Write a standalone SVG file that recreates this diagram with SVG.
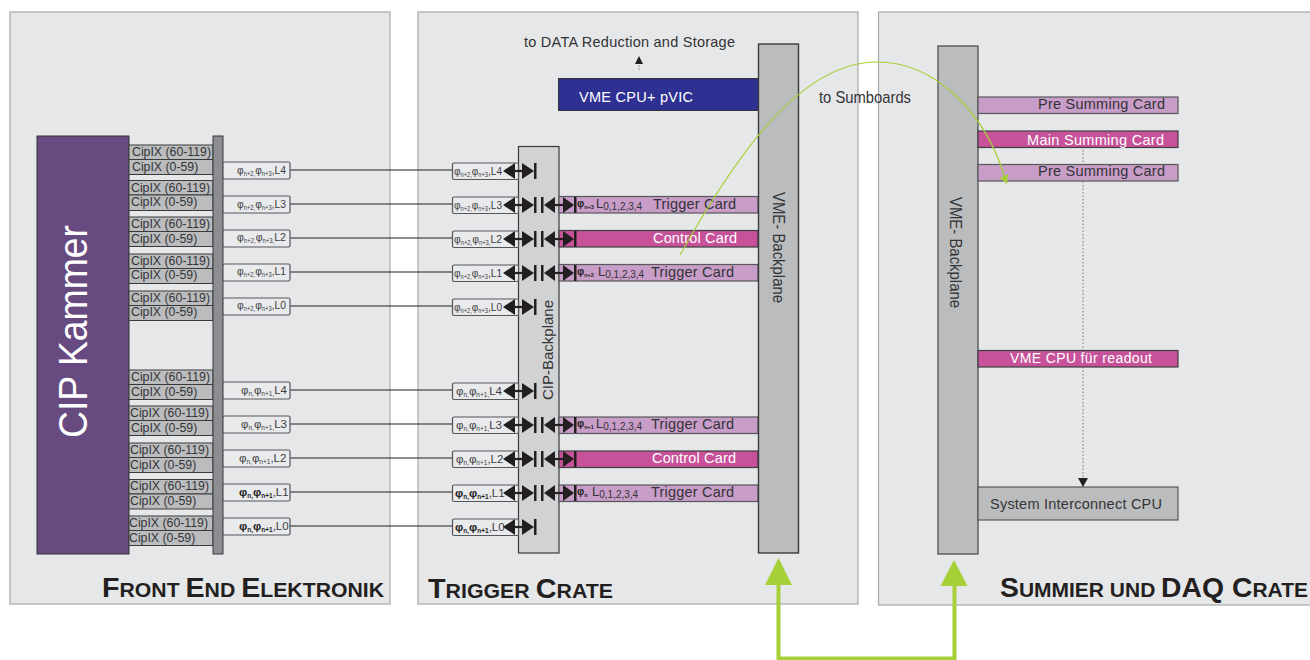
<svg xmlns="http://www.w3.org/2000/svg" width="1310" height="660" viewBox="0 0 1310 660">
<style>
text{font-family:"Liberation Sans",Arial,sans-serif;fill:#333436}
.panel{fill:#e6e7e9;stroke:#a6a8ab;stroke-width:1.2}
.bp{fill:#bbbcbe;stroke:#3a3a3c;stroke-width:1.4}
.cip{fill:#bbbcbe;stroke:#3a3a3c;stroke-width:1}
.cl{font-size:12.3px}
.tag{fill:#e9eaec;stroke:#55565a;stroke-width:1.2}
.tg{font-size:11.500px;fill:#3c3d3f}
.sub{font-size:6.500px}
.b{font-weight:bold;fill:#222}
.trig{fill:#c89dc8;stroke:#58585a;stroke-width:1.2}
.ctrl{fill:#c7529a;stroke:#3f3f41;stroke-width:1.2}
.cd{font-size:14.500px}
.ls{font-size:10px}
.ls .sub{font-size:5.500px}
.title{font-weight:bold;fill:#231f20;font-size:20px}
.cap{font-size:27px}
.wire{stroke:#1f1f21;stroke-width:1.2;fill:none}
.green{fill:#a6d037}
</style>
<defs>
<g id="da"><path d="M0 0L12-8V8ZM19-8L31 0L19 8Z" fill="#231f20"/><path d="M10 0H21" stroke="#231f20" stroke-width="2.200"/><rect x="31" y="-8" width="2.500" height="16" fill="#231f20"/></g>
<g id="da2"><rect x="0" y="-8" width="2.500" height="16" fill="#231f20"/><path d="M3 0L14-8V8ZM22-8L33 0L22 8Z" fill="#231f20"/><rect x="33" y="-8" width="2.500" height="16" fill="#231f20"/><path d="M12 0H24" stroke="#231f20" stroke-width="2.200"/></g>
</defs>

<rect class="panel" x="10" y="12" width="380" height="592"/>
<rect class="panel" x="418" y="12" width="440" height="592"/>
<rect class="panel" x="878.500" y="12" width="440" height="593"/>

<g id="connectors">
<path class="wire" d="M290 170H452M290 204H452M290 238H452M290 272H452M290 306H452M290 390H452M290 424H452M290 458H452M290 492H452M290 526H452"/>
<path d="M1083 150V479" stroke="#77787b" stroke-width="1" stroke-dasharray="1.500 2" fill="none"/>
<path d="M1078 478H1088L1083 487Z" fill="#231f20"/>
<path d="M639 70V60" stroke="#77787b" stroke-width="1" stroke-dasharray="1.500 1.500" fill="none"/>
<path d="M635 64L639 56L643 64Z" fill="#231f20"/>
<path d="M778.500 584V658.500H954.500V585" stroke="#a6d037" stroke-width="4" fill="none"/>
<path class="green" d="M778.500 558L792 585H765Z"/>
<path class="green" d="M954 560L967.500 586H940.500Z"/>
</g>

<g id="cip-kammer"><rect x="37" y="136" width="92" height="418" fill="#674a7f" stroke="#333" stroke-width="1"/>
<text transform="translate(87 438) rotate(-90)" font-size="41" style="fill:#fff" textLength="213" lengthAdjust="spacingAndGlyphs">CIP Kammer</text></g>

<g id="front-end-rows">
<rect class="cip" x="129" y="145" width="84" height="14.500"/><rect class="cip" x="129" y="159.500" width="84" height="15"/>
<text class="cl" x="132" y="156">CipIX (60-119)</text><text class="cl" x="132" y="171">CipIX (0-59)</text>
<rect class="cip" x="129" y="180.500" width="84" height="14.500"/><rect class="cip" x="129" y="195" width="84" height="15.500"/>
<text class="cl" x="131" y="192">CipIX (60-119)</text><text class="cl" x="131" y="206">CipIX (0-59)</text>
<rect class="cip" x="129" y="217" width="84" height="14.500"/><rect class="cip" x="129" y="231.500" width="84" height="15"/>
<text class="cl" x="131" y="228">CipIX (60-119)</text><text class="cl" x="131" y="243">CipIX (0-59)</text>
<rect class="cip" x="129" y="254" width="84" height="14.500"/><rect class="cip" x="129" y="268.500" width="84" height="15"/>
<text class="cl" x="131" y="265">CipIX (60-119)</text><text class="cl" x="131" y="279">CipIX (0-59)</text>
<rect class="cip" x="129" y="291" width="84" height="14.500"/><rect class="cip" x="129" y="305.500" width="84" height="15"/>
<text class="cl" x="131" y="302">CipIX (60-119)</text><text class="cl" x="131" y="316">CipIX (0-59)</text>
<rect class="cip" x="129" y="370" width="84" height="14.500"/><rect class="cip" x="129" y="384.500" width="84" height="15"/>
<text class="cl" x="131" y="381">CipIX (60-119)</text><text class="cl" x="131" y="396">CipIX (0-59)</text>
<rect class="cip" x="129" y="406" width="84" height="14.500"/><rect class="cip" x="129" y="420.500" width="84" height="15"/>
<text class="cl" x="130" y="417">CipIX (60-119)</text><text class="cl" x="131" y="432">CipIX (0-59)</text>
<rect class="cip" x="129" y="443" width="84" height="14.500"/><rect class="cip" x="129" y="457.500" width="84" height="15"/>
<text class="cl" x="130" y="454">CipIX (60-119)</text><text class="cl" x="130" y="469">CipIX (0-59)</text>
<rect class="cip" x="129" y="479.500" width="84" height="14.500"/><rect class="cip" x="129" y="494" width="84" height="15"/>
<text class="cl" x="130" y="490">CipIX (60-119)</text><text class="cl" x="130" y="505">CipIX (0-59)</text>
<rect class="cip" x="129" y="516" width="84" height="14.500"/><rect class="cip" x="129" y="530.500" width="84" height="15"/>
<text class="cl" x="129" y="527">CipIX (60-119)</text><text class="cl" x="129" y="542">CipIX (0-59)</text>
</g>
<g id="front-end-bar"><rect x="213" y="136" width="10" height="418" fill="#8c8e91" stroke="#3a3a3c" stroke-width="1"/></g>

<g id="front-end-tags">
<rect class="tag" x="223" y="162" width="67" height="17" rx="1.500"/><text class="tg" x="237" y="174" textLength="49" lengthAdjust="spacingAndGlyphs">φ<tspan class="sub" dy="2">n+2,</tspan><tspan dy="-2">φ</tspan><tspan class="sub" dy="2">n+3</tspan><tspan dy="-2">,L4</tspan></text>
<rect class="tag" x="223" y="196" width="67" height="17" rx="1.500"/><text class="tg" x="237" y="207.500" textLength="49" lengthAdjust="spacingAndGlyphs">φ<tspan class="sub" dy="2">n+2,</tspan><tspan dy="-2">φ</tspan><tspan class="sub" dy="2">n+3</tspan><tspan dy="-2">,L3</tspan></text>
<rect class="tag" x="223" y="230" width="67" height="17" rx="1.500"/><text class="tg" x="237" y="241" textLength="49" lengthAdjust="spacingAndGlyphs">φ<tspan class="sub" dy="2">n+2,</tspan><tspan dy="-2">φ</tspan><tspan class="sub" dy="2">n+3,</tspan><tspan dy="-2">L2</tspan></text>
<rect class="tag" x="223" y="264" width="67" height="17" rx="1.500"/><text class="tg" x="237" y="275" textLength="49" lengthAdjust="spacingAndGlyphs">φ<tspan class="sub" dy="2">n+2,</tspan><tspan dy="-2">φ</tspan><tspan class="sub" dy="2">n+3</tspan><tspan dy="-2">,L1</tspan></text>
<rect class="tag" x="223" y="298" width="67" height="17" rx="1.500"/><text class="tg" x="237" y="309" textLength="49" lengthAdjust="spacingAndGlyphs">φ<tspan class="sub" dy="2">n+2,</tspan><tspan dy="-2">φ</tspan><tspan class="sub" dy="2">n+3</tspan><tspan dy="-2">,L0</tspan></text>
<rect class="tag" x="223" y="382" width="67" height="17" rx="1.500"/><text class="tg" x="241" y="393.500">φ<tspan class="sub" dy="2">n,</tspan><tspan dy="-2">φ</tspan><tspan class="sub" dy="2">n+1,</tspan><tspan dy="-2">L4</tspan></text>
<rect class="tag" x="223" y="416" width="67" height="17" rx="1.500"/><text class="tg" x="241" y="427.500">φ<tspan class="sub" dy="2">n,</tspan><tspan dy="-2">φ</tspan><tspan class="sub" dy="2">n+1,</tspan><tspan dy="-2">L3</tspan></text>
<rect class="tag" x="223" y="450" width="67" height="17" rx="1.500"/><text class="tg" x="239" y="461.500">φ<tspan class="sub" dy="2">n,</tspan><tspan dy="-2">φ</tspan><tspan class="sub" dy="2">n+1</tspan><tspan dy="-2">,L2</tspan></text>
<rect class="tag" x="223" y="484" width="67" height="17" rx="1.500"/><text class="tg" x="239" y="495.500"><tspan class="b">φ</tspan><tspan class="sub b" dy="2">n,</tspan><tspan class="b" dy="-2">φ</tspan><tspan class="sub b" dy="2">n+1</tspan><tspan dy="-2">,L1</tspan></text>
<rect class="tag" x="223" y="518" width="67" height="17" rx="1.500"/><text class="tg" x="239" y="529.500"><tspan class="b">φ</tspan><tspan class="sub b" dy="2">n,</tspan><tspan class="b" dy="-2">φ</tspan><tspan class="sub b" dy="2">n+1</tspan><tspan dy="-2">,L0</tspan></text>
</g>

<g id="cip-backplane"><rect x="518.500" y="146.500" width="40.500" height="406.500" fill="#d0d2d3" stroke="#3a3a3c" stroke-width="1.200"/>
<text transform="translate(553 400) rotate(-90)" font-size="14.500" textLength="100" lengthAdjust="spacingAndGlyphs">CIP-Backplane</text></g>

<g id="trigger-tags">
<rect class="tag" x="452.500" y="163" width="66" height="16.500" rx="1.500"/><text class="tg" x="454" y="175" textLength="48" lengthAdjust="spacingAndGlyphs">φ<tspan class="sub" dy="2">n+2,</tspan><tspan dy="-2">φ</tspan><tspan class="sub" dy="2">n+3</tspan><tspan dy="-2">,L4</tspan></text>
<rect class="tag" x="452.500" y="197" width="66" height="16.500" rx="1.500"/><text class="tg" x="454" y="209" textLength="48" lengthAdjust="spacingAndGlyphs">φ<tspan class="sub" dy="2">n+2,</tspan><tspan dy="-2">φ</tspan><tspan class="sub" dy="2">n+3</tspan><tspan dy="-2">,L3</tspan></text>
<rect class="tag" x="452.500" y="231" width="66" height="16.500" rx="1.500"/><text class="tg" x="454" y="243" textLength="48" lengthAdjust="spacingAndGlyphs">φ<tspan class="sub" dy="2">n+2,</tspan><tspan dy="-2">φ</tspan><tspan class="sub" dy="2">n+3,</tspan><tspan dy="-2">L2</tspan></text>
<rect class="tag" x="452.500" y="265" width="66" height="16.500" rx="1.500"/><text class="tg" x="454" y="277" textLength="48" lengthAdjust="spacingAndGlyphs">φ<tspan class="sub" dy="2">n+2,</tspan><tspan dy="-2">φ</tspan><tspan class="sub" dy="2">n+3</tspan><tspan dy="-2">,L1</tspan></text>
<rect class="tag" x="452.500" y="299" width="66" height="16.500" rx="1.500"/><text class="tg" x="454" y="311" textLength="48" lengthAdjust="spacingAndGlyphs">φ<tspan class="sub" dy="2">n+2,</tspan><tspan dy="-2">φ</tspan><tspan class="sub" dy="2">n+3</tspan><tspan dy="-2">,L0</tspan></text>
<rect class="tag" x="452.500" y="383" width="66" height="16.500" rx="1.500"/><text class="tg" x="456" y="395">φ<tspan class="sub" dy="2">n,</tspan><tspan dy="-2">φ</tspan><tspan class="sub" dy="2">n+1,</tspan><tspan dy="-2">L4</tspan></text>
<rect class="tag" x="452.500" y="417" width="66" height="16.500" rx="1.500"/><text class="tg" x="456" y="429">φ<tspan class="sub" dy="2">n,</tspan><tspan dy="-2">φ</tspan><tspan class="sub" dy="2">n+1,</tspan><tspan dy="-2">L3</tspan></text>
<rect class="tag" x="452.500" y="451" width="66" height="16.500" rx="1.500"/><text class="tg" x="456" y="463">φ<tspan class="sub" dy="2">n,</tspan><tspan dy="-2">φ</tspan><tspan class="sub" dy="2">n+1</tspan><tspan dy="-2">,L2</tspan></text>
<rect class="tag" x="452.500" y="485" width="66" height="16.500" rx="1.500"/><text class="tg" x="455" y="497"><tspan class="b">φ</tspan><tspan class="sub b" dy="2">n,</tspan><tspan class="b" dy="-2">φ</tspan><tspan class="sub b" dy="2">n+1</tspan><tspan dy="-2">,L1</tspan></text>
<rect class="tag" x="452.500" y="519" width="66" height="16.500" rx="1.500"/><text class="tg" x="455" y="531"><tspan class="b">φ</tspan><tspan class="sub b" dy="2">n,</tspan><tspan class="b" dy="-2">φ</tspan><tspan class="sub b" dy="2">n+1</tspan><tspan dy="-2">,L0</tspan></text>
</g>

<g id="trigger-cards">
<rect class="trig" x="559" y="196.500" width="199" height="16.500"/>
<rect class="ctrl" x="559" y="230.500" width="199" height="16.500"/>
<rect class="trig" x="559" y="264.500" width="199" height="16.500"/>
<rect class="trig" x="559" y="417" width="199" height="16.500"/>
<rect class="ctrl" x="559" y="451" width="199" height="16.500"/>
<rect class="trig" x="559" y="485" width="199" height="16.500"/>
<text class="ls" x="577" y="207"><tspan class="b">φ</tspan><tspan class="sub b" dy="2">n+3</tspan><tspan x="596" dy="-1" font-size="13">L</tspan><tspan font-size="10" dy="2">0,1,2,3,4</tspan></text>
<text class="ls" x="577" y="275"><tspan class="b">φ</tspan><tspan class="sub b" dy="2">n+2</tspan><tspan x="598" dy="-1" font-size="13">L</tspan><tspan font-size="10" dy="2">0,1,2,3,4</tspan></text>
<text class="ls" x="577" y="427"><tspan class="b">φ</tspan><tspan class="sub b" dy="2">n+1</tspan><tspan x="596" dy="-1" font-size="13">L</tspan><tspan font-size="10" dy="2">0,1,2,3,4</tspan></text>
<text class="ls" x="577" y="495"><tspan class="b">φ</tspan><tspan class="sub b" dy="2">n</tspan><tspan x="592" dy="-1" font-size="13">L</tspan><tspan font-size="10" dy="2">0,1,2,3,4</tspan></text>
<text class="cd" x="653" y="209" textLength="83">Trigger Card</text>
<text class="cd" style="fill:#fff" x="653" y="243" textLength="84">Control Card</text>
<text class="cd" x="651" y="277" textLength="83">Trigger Card</text>
<text class="cd" x="651" y="429" textLength="83">Trigger Card</text>
<text class="cd" style="fill:#fff" x="652" y="463" textLength="84">Control Card</text>
<text class="cd" x="651" y="497" textLength="83">Trigger Card</text>
</g>

<g id="cip-arrows">
<use href="#da" x="503" y="171"/>
<use href="#da" x="503" y="205"/><use href="#da2" x="541" y="205"/>
<use href="#da" x="503" y="239"/><use href="#da2" x="541" y="239"/>
<use href="#da" x="503" y="273"/><use href="#da2" x="541" y="273"/>
<use href="#da" x="503" y="307"/>
<use href="#da" x="503" y="391"/>
<use href="#da" x="503" y="425"/><use href="#da2" x="541" y="425"/>
<use href="#da" x="503" y="459"/><use href="#da2" x="541" y="459"/>
<use href="#da" x="503" y="493"/><use href="#da2" x="541" y="493"/>
<use href="#da" x="503" y="527"/>
</g>

<g id="vme-cpu-pvic"><rect x="558.500" y="78.500" width="200" height="32" fill="#2e3192" stroke="#333" stroke-width="1"/>
<text x="579" y="101.500" font-size="14.500" textLength="114" style="fill:#fff">VME CPU+ pVIC</text></g>
<text x="524" y="47" font-size="14.500" textLength="211">to DATA Reduction and Storage</text>

<g id="vme-backplane-1"><rect class="bp" x="758.500" y="44" width="40" height="509"/>
<text transform="translate(773 192) rotate(90)" font-size="16" textLength="111" lengthAdjust="spacingAndGlyphs">VME- Backplane</text></g>
<text x="819" y="103" font-size="17" textLength="92" lengthAdjust="spacingAndGlyphs">to Sumboards</text>

<g id="vme-backplane-2"><rect class="bp" x="938" y="46" width="40" height="508" style="stroke:#58585a"/>
<text transform="translate(950 197) rotate(90)" font-size="16" textLength="111" lengthAdjust="spacingAndGlyphs">VME- Backplane</text></g>

<g id="sum-cards">
<rect class="trig" x="978" y="97" width="200" height="16.500"/><text class="cd" x="1038" y="109" textLength="127">Pre Summing Card</text>
<rect class="ctrl" x="978" y="131" width="200" height="16.500"/><text class="cd" x="1027" y="145" textLength="137" style="fill:#fff">Main Summing Card</text>
<rect class="trig" x="978" y="164.500" width="200" height="16.500"/><text class="cd" x="1038" y="176" textLength="127">Pre Summing Card</text>
<rect class="ctrl" x="978" y="350.500" width="200" height="16.500"/><text x="1010" y="363" font-size="14" textLength="142" style="fill:#fff">VME CPU für readout</text>
<rect x="978" y="487" width="200" height="33" fill="#bbbcbe" stroke="#58585a" stroke-width="1.200"/><text x="990" y="509" font-size="14.500" textLength="172">System Interconnect CPU</text>
</g>

<g id="green-curve">
<path d="M680 255C728 170 795 62 877 62C935 62 985 112 1005 178" fill="none" stroke="#a6d037" stroke-width="1.200"/>
<path class="green" d="M1000 178L1008 174L1007 184Z"/>
</g>

<text class="title" x="102" y="597" textLength="282" lengthAdjust="spacingAndGlyphs"><tspan class="cap">F</tspan>RONT <tspan class="cap">E</tspan>ND <tspan class="cap">E</tspan>LEKTRONIK</text>
<text class="title" x="428" y="598" textLength="185" lengthAdjust="spacingAndGlyphs"><tspan class="cap">T</tspan>RIGGER <tspan class="cap">C</tspan>RATE</text>
<text class="title" x="1000" y="597" textLength="308" lengthAdjust="spacingAndGlyphs"><tspan class="cap">S</tspan>UMMIER UND <tspan class="cap">DAQ C</tspan>RATE</text>
</svg>
